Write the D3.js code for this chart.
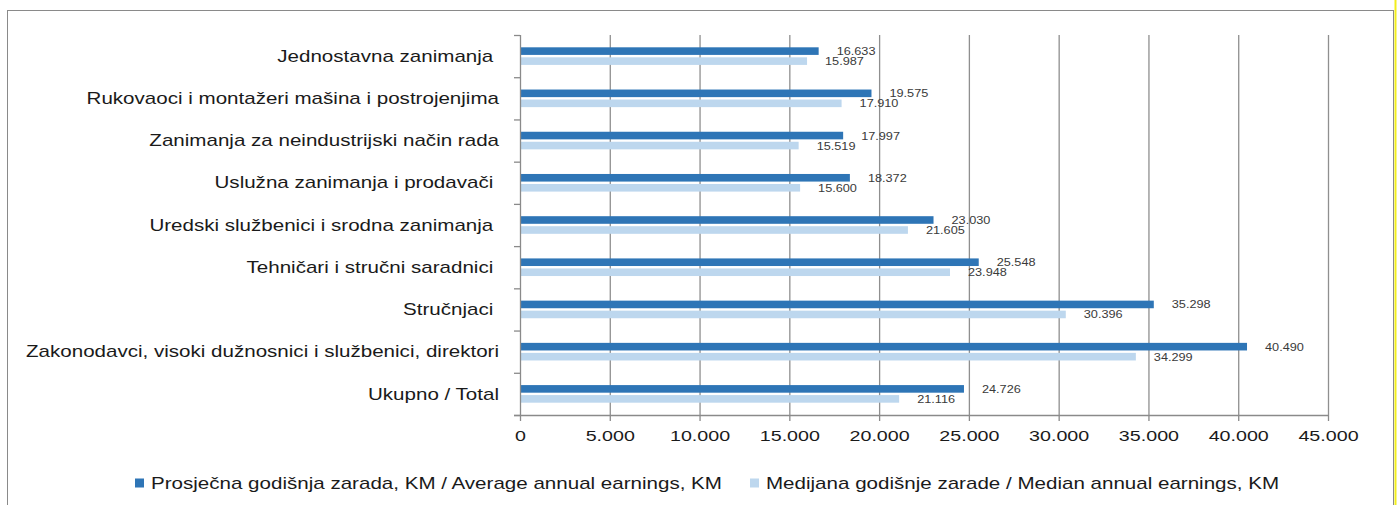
<!DOCTYPE html>
<html>
<head>
<meta charset="utf-8">
<script src="https://cdn.jsdelivr.net/npm/d3@7"></script>
<style>
  html, body { margin: 0; padding: 0; background: #fff; }
  svg { display: block; font-family: "Liberation Sans", Arial, sans-serif; }
  text { white-space: pre; }
</style>
</head>
<body>
<svg id="chart" width="1397" height="505"></svg>
<script>
// Occupation groups, top to bottom
const categories = [
  "Jednostavna zanimanja ",
  "Rukovaoci i montažeri mašina i postrojenjima",
  "Zanimanja za neindustrijski način rada",
  "Uslužna zanimanja i prodavači ",
  "Uredski službenici i srodna zanimanja ",
  "Tehničari i stručni saradnici ",
  "Stručnjaci ",
  "Zakonodavci, visoki dužnosnici i službenici, direktori",
  "Ukupno / Total"
];
// Average annual earnings, KM
const averageEarnings = [16633, 19575, 17997, 18372, 23030, 25548, 35298, 40490, 24726];
// Median annual earnings, KM
const medianEarnings = [15987, 17910, 15519, 15600, 21605, 23948, 30396, 34299, 21116];
const seriesNames = [
  "Prosječna godišnja zarada, KM / Average annual earnings, KM",
  "Medijana godišnje zarade / Median annual earnings, KM"
];
const tickValues = [0, 5000, 10000, 15000, 20000, 25000, 30000, 35000, 40000, 45000];

const colors = ["#2e75b6", "#bdd7ee"];
const stretch = 1.27;

const locale = d3.formatLocale({ decimal: ",", thousands: ".", grouping: [3], currency: ["", " KM"] });
const fmt = locale.format(",d");

const svg = d3.select("#chart");

// outer frame
svg.append("rect")
  .attr("x", 7.5).attr("y", 10.5).attr("width", 1386).attr("height", 600)
  .attr("fill", "none").attr("stroke", "#8a8a8a").attr("stroke-width", 1);
svg.append("line")
  .attr("x1", 1395.5).attr("x2", 1395.5).attr("y1", 0).attr("y2", 505)
  .attr("stroke", "#f2ee1c").attr("stroke-width", 2);

const plot = { left: 520, right: 1328, top: 35, bottom: 415 };

const x = d3.scaleLinear().domain([0, 45000]).range([plot.left, plot.right]);
const y = d3.scaleBand().domain(categories).range([plot.top, plot.bottom])
  .paddingInner(0.583).paddingOuter(0.2915);
const ySub = d3.scaleBand().domain([0, 1]).range([0, y.bandwidth()]).paddingInner(0.24);

const rows = categories.map((c, i) => ({ cat: c, vals: [averageEarnings[i], medianEarnings[i]] }));

// vertical gridlines
svg.append("g").selectAll("line").data(tickValues.slice(1)).join("line")
  .attr("x1", d => x(d) + 0.5).attr("x2", d => x(d) + 0.5)
  .attr("y1", plot.top).attr("y2", plot.bottom)
  .attr("stroke", "#8f8f8f").attr("stroke-width", 1.3);

// bars
const groups = svg.append("g").selectAll("g").data(rows).join("g")
  .attr("transform", d => `translate(0,${y(d.cat)})`);
groups.selectAll("rect").data(d => d.vals.map((v, k) => ({ v, k }))).join("rect")
  .attr("x", x(0))
  .attr("y", d => ySub(d.k))
  .attr("width", d => x(d.v) - x(0))
  .attr("height", ySub.bandwidth())
  .attr("fill", d => colors[d.k]);

// value labels
groups.selectAll("text").data(d => d.vals.map((v, k) => ({ v, k }))).join("text")
  .attr("transform", d => `translate(${x(d.v) + 18},${ySub(d.k) + ySub.bandwidth() / 2 + 0.5}) scale(${stretch},1)`)
  .attr("dominant-baseline", "central")
  .attr("font-size", 10)
  .attr("fill", "#3a3a3a")
  .text(d => fmt(d.v));

// y axis line and ticks at category boundaries
const axisColor = "#8a8a8a";
const yAxis = svg.append("g");
yAxis.append("line")
  .attr("x1", plot.left + 0.5).attr("x2", plot.left + 0.5)
  .attr("y1", plot.top).attr("y2", plot.bottom)
  .attr("stroke", axisColor).attr("stroke-width", 1.3);
const boundaries = d3.range(categories.length + 1).map(i => plot.top + i * y.step());
yAxis.selectAll("line.tick").data(boundaries).join("line")
  .attr("class", "tick")
  .attr("x1", plot.left - 6).attr("x2", plot.left)
  .attr("y1", d => d + 0.5).attr("y2", d => d + 0.5)
  .attr("stroke", axisColor).attr("stroke-width", 1.3);

// category labels
svg.append("g").selectAll("text").data(categories).join("text")
  .attr("transform", d => `translate(499,${y(d) + y.bandwidth() / 2}) scale(${stretch},1)`)
  .attr("text-anchor", "end")
  .attr("dominant-baseline", "central")
  .attr("font-size", 16.2)
  .attr("fill", "#1a1a1a")
  .text(d => d);

// x axis
const xAxis = svg.append("g").attr("transform", `translate(0,${plot.bottom})`)
  .call(d3.axisBottom(x).tickValues(tickValues).tickSize(6).tickSizeOuter(0).tickFormat(fmt));
xAxis.select(".domain").remove();
xAxis.append("line")
  .attr("x1", plot.left - 6).attr("x2", plot.right)
  .attr("y1", 0.5).attr("y2", 0.5)
  .attr("stroke", axisColor).attr("stroke-width", 1.3);
xAxis.selectAll(".tick line").attr("stroke", axisColor).attr("stroke-width", 1.3);
xAxis.selectAll(".tick text")
  .attr("y", null).attr("dy", null)
  .attr("transform", `translate(0,26) scale(${stretch},1)`)
  .attr("font-size", 15.5)
  .attr("font-family", "Liberation Sans, Arial, sans-serif")
  .attr("fill", "#1a1a1a");

// legend
const legendItems = [
  { name: seriesNames[0], color: colors[0], x: 135 },
  { name: seriesNames[1], color: colors[1], x: 750 }
];
const legend = svg.append("g").selectAll("g").data(legendItems).join("g")
  .attr("transform", d => `translate(${d.x},483)`);
legend.append("rect")
  .attr("x", 0).attr("y", -4.5).attr("width", 9).attr("height", 9)
  .attr("fill", d => d.color);
legend.append("text")
  .attr("transform", `translate(16,0) scale(${stretch},1)`)
  .attr("dominant-baseline", "central")
  .attr("font-size", 16.2)
  .attr("fill", "#1a1a1a")
  .text(d => d.name);
</script>
</body>
</html>
